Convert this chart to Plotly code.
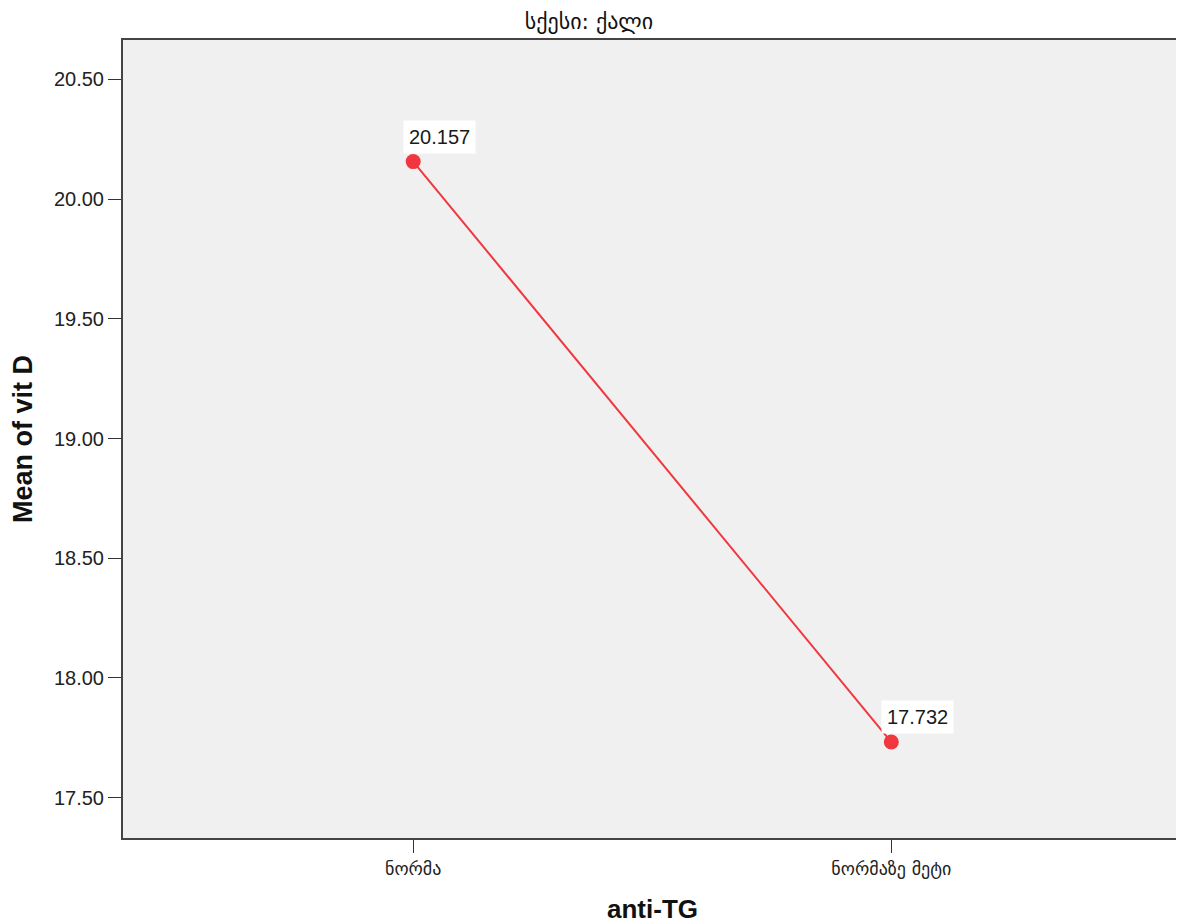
import plotly.graph_objects as go

categories = ["ნორმა", "ნორმაზე მეტი"]
means = [20.157, 17.732]
labels = ["20.157", "17.732"]
y_ticks = [17.5, 18.0, 18.5, 19.0, 19.5, 20.0, 20.5]
y_ticktext = ["17.50", "18.00", "18.50", "19.00", "19.50", "20.00", "20.50"]

fig = go.Figure()
fig.add_trace(go.Scatter(
    x=[0, 1], y=means, mode="lines+markers",
    line=dict(color="#f0373f", width=2),
    marker=dict(color="#f0373f", size=15),
    showlegend=False, hoverinfo="skip",
))
for i, (v, t) in enumerate(zip(means, labels)):
    fig.add_annotation(x=i, y=v, text=t, showarrow=False,
                       xshift=26, yshift=25, bgcolor="white",
                       borderpad=5,
                       font=dict(family="Liberation Sans, Arial", size=20, color="#1a1a1a"))

fig.update_layout(
    width=1176, height=916,
    margin=dict(l=115, r=2, t=32, b=86),
    paper_bgcolor="white", plot_bgcolor="#f0f0f0",
    title=dict(text="სქესი: ქალი", x=0.494, xanchor="center", y=0.9855, yanchor="middle",
               font=dict(family="DejaVu Sans", size=22, color="#111")),
    xaxis=dict(
        range=[-0.607, 1.608], tickmode="array", tickvals=[0, 1], ticktext=categories,
        showgrid=False, zeroline=False, showline=True, mirror=True, automargin=False,
        linecolor="#444", linewidth=2, ticks="outside", ticklen=13, tickcolor="#333",
        tickfont=dict(family="DejaVu Sans", size=18, color="#222"),
        title=dict(text="<b>anti-TG</b>", standoff=22,
                   font=dict(family="Liberation Sans, Arial", size=26, color="#111")),
    ),
    yaxis=dict(
        range=[17.331, 20.665], tickmode="array", tickvals=y_ticks, ticktext=y_ticktext,
        showgrid=False, zeroline=False, showline=True, mirror=True, automargin=False,
        linecolor="#444", linewidth=2, ticks="outside", ticklen=13, tickcolor="#333",
        tickfont=dict(family="Liberation Sans, Arial", size=20, color="#222"),
        title=dict(text="<b>Mean of vit D</b>", standoff=22,
                   font=dict(family="Liberation Sans, Arial", size=27, color="#111")),
    ),
)

fig.write_html("out.html")
